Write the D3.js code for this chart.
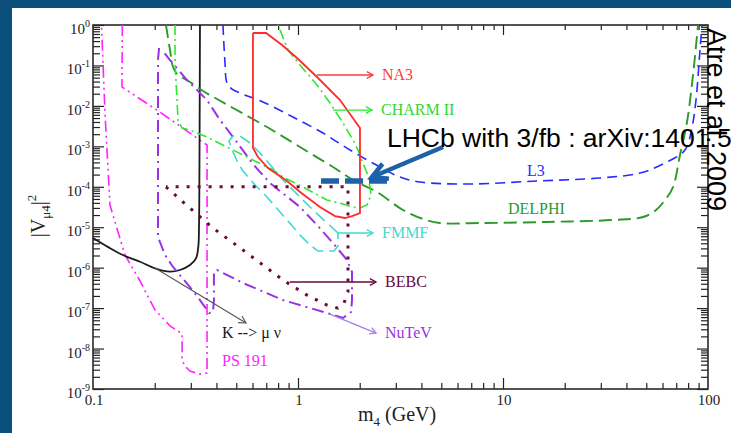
<!DOCTYPE html>
<html>
<head>
<meta charset="utf-8">
<script src="https://cdn.jsdelivr.net/npm/d3@7"></script>
<style>
  body { margin: 0; background: #fff; }
  svg { display: block; }
  .axis line { stroke: #222; stroke-width: 1.2; }
</style>
</head>
<body>
<div id="chart"></div>
<script>
// limits, points are [m4 (GeV), |V_mu4|^2]
var na3 = [[0.603, 0.634], [0.698, 0.634], [0.836, 0.32], [0.989, 0.1528], [1.238, 0.0518], [1.603, 0.01397],
  [2.006, 2.84e-3], [2.006, 2.24e-5], [1.834, 1.89e-5], [1.695, 1.69e-5], [1.515, 1.89e-5], [1.28, 3.16e-5],
  [1.023, 7.42e-5], [0.884, 1.39e-4], [0.714, 2.91e-4], [0.638, 5.44e-4], [0.603, 9.08e-4], [0.603, 0.634]];

var charm2 = [[0.2512, 1], [0.2512, 0.115], [0.257, 0.01397], [0.2598, 4.48e-3], [0.2717, 2.84e-3], [0.2972, 2.53e-3],
  [0.3597, 1.70e-3], [0.4505, 9.6e-4], [0.603, 4.59e-4], [0.755, 2.6e-4], [0.845, 1.74e-4], [1.058, 9.86e-5],
  [1.385, 4.71e-5], [1.658, 3.75e-5], [1.834, 3.16e-5], [2.006, 2.98e-5], [2.171, 3.54e-5], [2.27, 6.25e-5],
  [2.245, 9.86e-5], [2.171, 2.19e-4], [2.075, 3.87e-4], [1.962, 8.1e-4], [1.855, 1.43e-3], [1.658, 3.77e-3],
  [1.432, 0.01178], [1.238, 0.0328], [1.023, 0.1026], [0.894, 0.241], [0.799, 1]];

var fmmf = [[1.567, 7.19e-6], [1.385, 1.27e-5], [1.144, 3.16e-5], [0.945, 8.3e-5], [0.845, 1.47e-4], [0.747, 3.08e-4],
  [0.652, 6.84e-4], [0.583, 1.21e-3], [0.521, 1.80e-3], [0.482, 1.80e-3], [0.4607, 1.35e-3], [0.482, 7.24e-4],
  [0.5096, 3.87e-4], [0.539, 2.45e-4], [0.617, 1.11e-4], [0.706, 5.58e-5], [0.884, 1.51e-5], [1.023, 6.41e-6],
  [1.144, 3.63e-6], [1.252, 2.58e-6], [1.498, 2.58e-6], [1.567, 3.43e-6], [1.567, 7.19e-6]];

var bebc = [[0.227, 1e-4], [0.2748, 4.2e-5], [0.3252, 2.0e-5], [0.3849, 9.5e-6], [0.539, 2.73e-6], [0.845, 4.94e-7],
  [1.106, 2.1e-7], [1.385, 1.19e-7], [1.567, 1.0e-7], [1.676, 1.34e-7], [1.753, 2.5e-7], [1.753, 1e-4], [0.227, 1e-4]];

var nutev = [[0.210, 0.27], [0.2075, 0.136], [0.2075, 5.73e-6], [0.2245, 2.06e-6], [0.2457, 1.04e-6], [0.2972, 3.32e-7],
  [0.3325, 1.58e-7], [0.3597, 8.97e-8], [0.368, 7.55e-8], [0.3849, 8.0e-8], [0.389, 1.58e-7], [0.389, 7.8e-7],
  [0.4027, 8.75e-7], [0.539, 4.17e-7], [0.845, 1.58e-7], [1.385, 7.55e-8], [1.658, 5.69e-8], [1.814, 8.0e-8],
  [1.834, 1.58e-7], [1.834, 7.8e-7], [1.734, 1.55e-6], [1.481, 4.07e-6], [1.238, 1.13e-5], [1.023, 3.16e-5],
  [0.730, 1.24e-4], [0.603, 3.66e-4], [0.482, 1.70e-3], [0.4164, 4.48e-3], [0.3597, 0.01397], [0.2874, 0.0436],
  [0.2375, 0.136], [0.217, 0.241]];

var ps191 = [[0.139, 1], [0.1385, 0.0293], [0.205, 7.9e-3], [0.332, 1.43e-3], [0.360, 1.08e-3], [0.360, 2.48e-9],
  [0.332, 2.34e-9], [0.297, 2.78e-9], [0.278, 3.92e-9], [0.272, 5.83e-9], [0.272, 2.29e-8], [0.260, 2.71e-8],
  [0.238, 3.6e-8], [0.2007, 8.97e-8], [0.1696, 4.68e-7], [0.1432, 2.06e-6], [0.121, 3.54e-5], [0.1144, 6.67e-3],
  [0.110, 1]];

var kmunu = [[0.1, 5.41e-6], [0.1102, 4.0e-6], [0.1256, 2.73e-6], [0.1432, 1.94e-6], [0.1696, 1.40e-6],
  [0.2007, 9.6e-7], [0.2375, 7.94e-7], [0.2657, 8.75e-7], [0.2972, 1.16e-6], [0.318, 1.70e-6], [0.3264, 3.3e-6],
  [0.3289, 1.03e-5], [0.330, 4.71e-5], [0.3325, 1]];

var l3 = [[0.4305, 1], [0.4405, 0.115], [0.4505, 0.0368], [0.4766, 0.0261], [0.521, 0.0208], [0.675, 0.01247],
  [0.945, 5.31e-3], [1.324, 2.13e-3], [1.794, 8.1e-4], [2.512, 3.08e-4], [3.145, 1.74e-4], [3.937, 1.31e-4],
  [6.9, 1.17e-4], [14.65, 1.39e-4], [29.73, 1.65e-4], [46.6, 2.19e-4], [61.7, 3.87e-4], [77.2, 8.1e-4],
  [83.6, 3.0e-3], [87.4, 0.01397], [91.4, 0.241], [93.5, 1]];

var delphi = [[0.227, 1], [0.2375, 0.241], [0.2457, 0.0915], [0.257, 0.0614], [0.2972, 0.039], [0.344, 0.0233],
  [0.4026, 0.0148], [0.482, 8.87e-3], [0.706, 3.0e-3], [1.023, 9.6e-4], [1.481, 3.08e-4], [1.855, 1.47e-4],
  [2.428, 7.42e-5], [3.252, 2.66e-5], [4.07, 1.6e-5], [4.93, 1.27e-5], [7.72, 1.27e-5], [16.39, 1.35e-5],
  [34.4, 1.51e-5], [48.2, 1.79e-5], [55.8, 2.66e-5], [61.7, 4.71e-5], [67.5, 9.86e-5], [73.0, 6.1e-4],
  [79.0, 4.0e-3], [84.5, 0.058], [89.4, 1]];

// LHCb 3/fb reach
var lhcbMass = [1.295, 2.717];
var lhcbV2 = 1.39e-4;

// labels with arrows
var arrowNames = ["NA3", "CHARM II", "FMMF", "BEBC", "NuTeV"];
var arrowFrom = [[1.238, 0.058], [1.481, 7.9e-3], [1.567, 7.19e-6], [0.914, 4.42e-7], [1.432, 7.14e-8]];
var arrowTo = [[2.322, 0.058], [2.296, 7.9e-3], [2.322, 7.19e-6], [2.402, 4.42e-7], [2.402, 2.42e-8]];

// labels without arrows
var plainNames = ["L3", "DELPHI", "K --> \u03bc \u03bd", "PS 191"];
var plainPos = [[13.1, 1.85e-4], [10.58, 2.12e-5], [0.4258, 1.82e-8], [0.4258, 3.7e-9]];
var kArrow = [[0.2007, 9.8e-7], [0.5577, 4.28e-8]];
var lhcbArrow = [[5.1, 9.6e-4], [2.296, 1.74e-4]];
var lhcbTextPos = [2.717, 9.6e-4];

var xMajor = [0.1, 1, 10, 100];
var xLabels = ["0.1", "1", "10", "100"];
var yExponents = [0, -1, -2, -3, -4, -5, -6, -7, -8, -9];
var minorDigits = [2, 3, 4, 5, 6, 7, 8, 9];

ExclusionPlot = function(_parentElement) {
  this.parentElement = _parentElement;
  this.margin = {top: 25, right: 23, bottom: 44, left: 93};
  this.width = 731 - this.margin.left - this.margin.right;
  this.height = 433 - this.margin.top - this.margin.bottom;
  this.initVis();
}

ExclusionPlot.prototype.initVis = function() {
  var vis = this;

  vis.root = d3.select("#" + vis.parentElement).append("svg")
    .attr("width", 731)
    .attr("height", 433);

  // slide background
  vis.root.append("rect").attr("width", 731).attr("height", 433).attr("fill", "#fff");
  vis.root.append("rect").attr("width", 731).attr("height", 8).attr("fill", "#0b4f7d");
  vis.root.append("rect").attr("width", 12).attr("height", 433).attr("fill", "#0b4f7d");

  vis.svg = vis.root.append("g")
    .attr("transform", "translate(" + vis.margin.left + "," + vis.margin.top + ")");

  vis.x = d3.scaleLog().domain([0.1, 100]).range([0, vis.width]);
  vis.y = d3.scaleLog().domain([1e-9, 1]).range([vis.height, 0]);

  vis.svg.append("clipPath").attr("id", "plot-clip")
    .append("rect").attr("width", vis.width).attr("height", vis.height);

  vis.drawAxes();
  vis.updateVis();
}

ExclusionPlot.prototype.drawAxes = function() {
  var vis = this;

  var xMinor = [], yMinor = [];
  xMajor.slice(0, 3).forEach(function(d) {
    minorDigits.forEach(function(k) { xMinor.push(d * k); });
  });
  yExponents.slice(1).forEach(function(e) {
    minorDigits.forEach(function(k) { yMinor.push(k * Math.pow(10, e)); });
  });
  var yMajor = yExponents.map(function(e) { return Math.pow(10, e); });

  var tickGroup = function(axis, values, size, tx, ty) {
    var g = vis.svg.append("g")
      .attr("class", "axis")
      .attr("transform", "translate(" + tx + "," + ty + ")")
      .call(axis.tickValues(values).tickSize(size).tickSizeOuter(0).tickFormat(""));
    g.select(".domain").remove();
    g.selectAll("text").remove();
  }

  tickGroup(d3.axisBottom(vis.x), xMinor, -6, 0, vis.height);
  tickGroup(d3.axisBottom(vis.x), [1, 10], -11, 0, vis.height);
  tickGroup(d3.axisTop(vis.x), xMinor, -5, 0, 0);
  tickGroup(d3.axisTop(vis.x), [1, 10], -10, 0, 0);
  tickGroup(d3.axisLeft(vis.y), yMinor, -7, 0, 0);
  tickGroup(d3.axisLeft(vis.y), yMajor, -11, 0, 0);
  tickGroup(d3.axisRight(vis.y), yMinor, -7, vis.width, 0);
  tickGroup(d3.axisRight(vis.y), yMajor, -11, vis.width, 0);

  vis.svg.append("rect")
    .attr("width", vis.width)
    .attr("height", vis.height)
    .attr("fill", "none")
    .attr("stroke", "#2a2a2a")
    .attr("stroke-width", 1.6);

  var serif = "'Liberation Serif', 'DejaVu Serif', serif";

  // x tick labels
  vis.svg.selectAll(".xlab")
    .data(xMajor)
    .enter().append("text")
    .attr("class", "xlab")
    .attr("x", function(d) { return vis.x(d) + 1; })
    .attr("y", vis.height + 16)
    .attr("text-anchor", "middle")
    .attr("font-family", serif)
    .attr("font-size", 15)
    .attr("fill", "#222")
    .text(function(d, i) { return xLabels[i]; });

  // y tick labels 10^n
  var ylab = vis.svg.selectAll(".ylab")
    .data(yExponents)
    .enter().append("text")
    .attr("class", "ylab")
    .attr("x", -3)
    .attr("y", function(d) { return vis.y(Math.pow(10, d)) + 9; })
    .attr("text-anchor", "end")
    .attr("font-family", serif)
    .attr("fill", "#222");
  ylab.append("tspan").attr("font-size", 15).text("10");
  ylab.append("tspan").attr("font-size", 10).attr("dy", -7).text(function(d) { return d; });

  // axis titles
  var xt = vis.svg.append("text")
    .attr("x", 265)
    .attr("y", vis.height + 32)
    .attr("font-family", serif)
    .attr("fill", "#222");
  xt.append("tspan").attr("font-size", 20).text("m");
  xt.append("tspan").attr("font-size", 13).attr("dy", 5).text("4");
  xt.append("tspan").attr("font-size", 20).attr("dy", -5).text(" (GeV)");

  var yt = vis.svg.append("text")
    .attr("transform", "translate(-48," + 191 + ") rotate(-90)")
    .attr("text-anchor", "middle")
    .attr("font-family", serif)
    .attr("fill", "#222");
  yt.append("tspan").attr("font-size", 20).text("|V");
  yt.append("tspan").attr("font-size", 13).attr("dy", 5).text("\u03bc4");
  yt.append("tspan").attr("font-size", 20).attr("dy", -5).text("|");
  yt.append("tspan").attr("font-size", 13).attr("dy", -9).text("2");
}

ExclusionPlot.prototype.updateVis = function() {
  var vis = this;
  var serif = "'Liberation Serif', 'DejaVu Serif', serif";

  var curves = [
    {data: ps191, color: "#ff22ff", dash: "11,4,2,4,2,4", width: 1.6, smooth: false},
    {data: kmunu, color: "#1a1a1a", dash: null, width: 1.8, smooth: true},
    {data: delphi, color: "#2a9a2a", dash: "13,6", width: 1.9, smooth: true},
    {data: l3, color: "#2a2aff", dash: "10,6", width: 1.6, smooth: true},
    {data: nutev, color: "#9932e6", dash: "12,5,2,5", width: 2, smooth: false},
    {data: fmmf, color: "#3fd9d0", dash: "12,6", width: 1.6, smooth: false},
    {data: bebc, color: "#660a3d", dash: "3,8", width: 3, smooth: false},
    {data: charm2, color: "#2ee82e", dash: "10,4,2,4", width: 1.6, smooth: false},
    {data: na3, color: "#ff2a2a", dash: null, width: 1.8, smooth: false}
  ];

  var plot = vis.svg.append("g").attr("clip-path", "url(#plot-clip)");

  curves.forEach(function(c) {
    var line = d3.line()
      .x(function(d) { return vis.x(d[0]); })
      .y(function(d) { return vis.y(d[1]); })
      .curve(c.smooth ? d3.curveCatmullRom.alpha(0.5) : d3.curveLinear);
    plot.append("path")
      .datum(c.data)
      .attr("d", line)
      .attr("fill", "none")
      .attr("stroke", c.color)
      .attr("stroke-width", c.width)
      .attr("stroke-dasharray", c.dash);
  });

  var arrow = function(p0, p1, color, w, head) {
    var x0 = vis.x(p0[0]), y0 = vis.y(p0[1]), x1 = vis.x(p1[0]), y1 = vis.y(p1[1]);
    var ang = Math.atan2(y1 - y0, x1 - x0);
    var a1 = ang + Math.PI - 0.5, a2 = ang + Math.PI + 0.5;
    vis.svg.append("line")
      .attr("x1", x0).attr("y1", y0).attr("x2", x1).attr("y2", y1)
      .attr("stroke", color).attr("stroke-width", w);
    vis.svg.append("path")
      .attr("d", "M" + (x1 + head * Math.cos(a1)) + "," + (y1 + head * Math.sin(a1)) +
        "L" + x1 + "," + y1 +
        "L" + (x1 + head * Math.cos(a2)) + "," + (y1 + head * Math.sin(a2)))
      .attr("fill", "none").attr("stroke", color).attr("stroke-width", w);
  }

  var arrowColors = ["#ff3a3a", "#2ee82e", "#3fd9d0", "#660a3d", "#a87de8"];
  var textColors = ["#ff3a3a", "#2ed82e", "#3fd9d0", "#660a3d", "#9932e6"];

  arrowNames.forEach(function(name, i) {
    arrow(arrowFrom[i], arrowTo[i], arrowColors[i], 1.3, 7);
    vis.svg.append("text")
      .attr("x", vis.x(arrowTo[i][0]) + 9)
      .attr("y", vis.y(arrowTo[i][1]) + 5)
      .attr("font-family", serif)
      .attr("font-size", 16)
      .attr("fill", textColors[i])
      .text(name);
  });

  arrow(kArrow[0], kArrow[1], "#555", 1.1, 8);

  var plainColors = ["#2a2aff", "#2a9a2a", "#1a1a1a", "#ff22ff"];
  plainNames.forEach(function(name, i) {
    vis.svg.append("text")
      .attr("x", vis.x(plainPos[i][0]))
      .attr("y", vis.y(plainPos[i][1]))
      .attr("font-family", serif)
      .attr("font-size", 16)
      .attr("fill", plainColors[i])
      .text(name);
  });

  // LHCb projection
  vis.svg.append("line")
    .attr("x1", vis.x(lhcbMass[0])).attr("x2", vis.x(lhcbMass[1]))
    .attr("y1", vis.y(lhcbV2)).attr("y2", vis.y(lhcbV2))
    .attr("stroke", "#1d62a8")
    .attr("stroke-width", 5.5)
    .attr("stroke-dasharray", "18,6");

  arrow(lhcbArrow[0], lhcbArrow[1], "#1d62a8", 4.5, 17);

  vis.svg.append("text")
    .attr("x", vis.x(lhcbTextPos[0]))
    .attr("y", vis.y(lhcbTextPos[1]))
    .attr("font-family", "'Liberation Sans', Arial, sans-serif")
    .attr("font-size", 26.5)
    .attr("fill", "#000")
    .text("LHCb with 3/fb : arXiv:1401.5");

  vis.root.append("text")
    .attr("transform", "translate(707,28) rotate(90)")
    .attr("font-family", "'Liberation Sans', Arial, sans-serif")
    .attr("font-size", 27)
    .attr("fill", "#000")
    .text("Atre et al. 2009");
}

var plot = new ExclusionPlot("chart");
</script>
</body>
</html>
